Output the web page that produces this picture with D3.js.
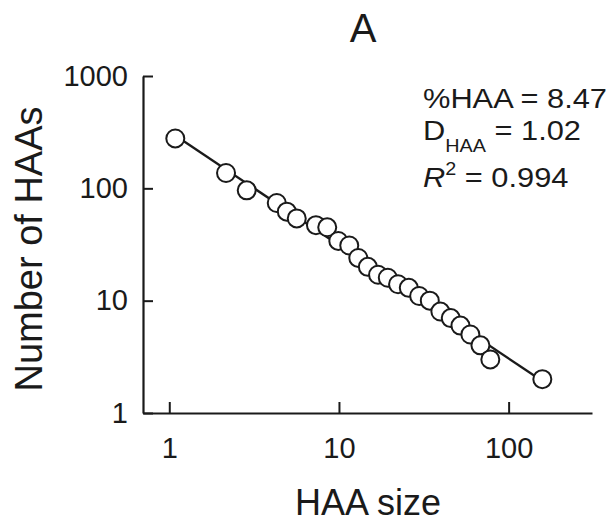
<!DOCTYPE html>
<html>
<head>
<meta charset="utf-8">
<script src="https://cdn.jsdelivr.net/npm/d3@7"></script>
<style>
  body { margin: 0; background: #fff; }
  svg text { font-family: "Liberation Sans", Arial, sans-serif; fill: #1a1a1a; }
</style>
</head>
<body>
<svg id="chart" width="613" height="522"></svg>
<script>
// HAA size vs number of HAAs (log-log)
var haaSize = [1.085, 2.16, 2.86, 4.30, 4.93, 5.64, 7.32, 8.53, 9.91, 11.5, 13.0, 14.8,
               17.0, 19.4, 22.3, 25.8, 29.7, 34.3, 39.6, 45.6, 52.0, 59.5, 68.2, 78.0, 158];
var haaCount = [278, 137, 96, 74, 62, 54, 47, 45, 34, 31, 24, 20,
                17, 16, 14, 13, 11, 10, 8, 7, 6, 5, 4, 3, 2];
var xTicks = [1, 10, 100];
var yTicks = [1, 10, 100, 1000];
var statLines = ["%HAA = 8.47", "1.02", "0.994"];

var ink = "#1a1a1a";
var svg = d3.select("#chart");

var x = d3.scaleLog().domain([0.7, 310]).range([143, 592]);
var y = d3.scaleLog().domain([1, 1000]).range([413, 76]);

// title
svg.append("text")
  .attr("x", 363).attr("y", 42)
  .attr("text-anchor", "middle")
  .style("font-size", "40px")
  .text("A");

// axes, ticks point inward
var xAxis = d3.axisBottom(x).tickValues(xTicks).tickFormat(d3.format("d"))
  .tickSize(-11).tickSizeOuter(0).tickPadding(24);
var yAxis = d3.axisLeft(y).tickValues(yTicks).tickFormat(d3.format("d"))
  .tickSize(-10).tickSizeOuter(0).tickPadding(15);

var gx = svg.append("g").attr("transform", "translate(0,413)").call(xAxis);
var gy = svg.append("g").attr("transform", "translate(143,0)").call(yAxis);

[gx, gy].forEach(function(g) {
  g.select(".domain").attr("stroke", ink).attr("stroke-width", 2.2);
  g.selectAll(".tick line").attr("stroke", ink).attr("stroke-width", 2);
  g.selectAll(".tick text")
    .style("font-family", "Liberation Sans, Arial, sans-serif")
    .style("font-size", "29px")
    .attr("fill", ink);
});

// axis titles
svg.append("text")
  .attr("x", 368).attr("y", 515)
  .attr("text-anchor", "middle")
  .style("font-size", "36px")
  .text("HAA size");

svg.append("text")
  .attr("transform", "translate(42,249) rotate(-90)")
  .attr("text-anchor", "middle")
  .style("font-size", "38px")
  .text("Number of HAAs");

// least-squares fit in log space
var lx = haaSize.map(Math.log10), ly = haaCount.map(Math.log10);
var mx = d3.mean(lx), my = d3.mean(ly);
var slope = d3.sum(lx, function(v, i) { return (v - mx) * (ly[i] - my); }) /
            d3.sum(lx, function(v) { return (v - mx) * (v - mx); });
var icpt = my - slope * mx;
var xEnds = d3.extent(haaSize);
var fit = xEnds.map(function(v) { return [v, Math.pow(10, icpt + slope * Math.log10(v))]; });

svg.append("path")
  .datum(fit)
  .attr("d", d3.line().x(function(d) { return x(d[0]); }).y(function(d) { return y(d[1]); }))
  .attr("fill", "none")
  .attr("stroke", ink)
  .attr("stroke-width", 2.4);

svg.append("g")
  .selectAll("circle")
  .data(haaSize)
  .enter().append("circle")
  .attr("cx", function(d) { return x(d); })
  .attr("cy", function(d, i) { return y(haaCount[i]); })
  .attr("r", 9)
  .attr("fill", "#fff")
  .attr("stroke", ink)
  .attr("stroke-width", 2);

// stats block (slightly wide lettering, as in the source figure)
var stats = svg.append("g")
  .attr("transform", "translate(423,0) scale(1.1,1)")
  .style("font-size", "28px");
stats.append("text").attr("x", 0).attr("y", 108).text(statLines[0]);

var t2 = stats.append("text").attr("x", 0).attr("y", 140);
t2.append("tspan").text("D");
t2.append("tspan").attr("dy", 12).style("font-size", "18px").text("HAA");
t2.append("tspan").attr("dy", -12).text(" = " + statLines[1]);

var t3 = stats.append("text").attr("x", 0).attr("y", 187);
t3.append("tspan").style("font-style", "italic").text("R");
t3.append("tspan").attr("dy", -12).style("font-size", "18px").text("2");
t3.append("tspan").attr("dy", 12).text(" = " + statLines[2]);
</script>
</body>
</html>
